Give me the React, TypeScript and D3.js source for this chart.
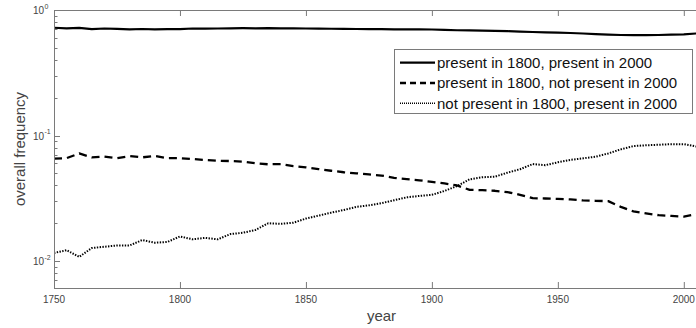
import React from "react";
import * as d3 from "d3";

const years = [
  1750, 1755, 1760, 1765, 1770, 1775, 1780, 1785, 1790, 1795,
  1800, 1805, 1810, 1815, 1820, 1825, 1830, 1835, 1840, 1845,
  1850, 1855, 1860, 1865, 1870, 1875, 1880, 1885, 1890, 1895,
  1900, 1905, 1910, 1915, 1920, 1925, 1930, 1935, 1940, 1945,
  1950, 1955, 1960, 1965, 1970, 1975, 1980, 1985, 1990, 1995,
  2000, 2005,
];

const presentBoth = [
  0.722, 0.715, 0.72, 0.705, 0.712, 0.708, 0.7, 0.706, 0.702, 0.705,
  0.703, 0.712, 0.71, 0.712, 0.715, 0.716, 0.714, 0.716, 0.713, 0.714,
  0.712, 0.71, 0.709, 0.707, 0.706, 0.705, 0.704, 0.702, 0.701, 0.7,
  0.699, 0.695, 0.69, 0.687, 0.685, 0.682, 0.678, 0.673, 0.668, 0.664,
  0.66, 0.656, 0.65, 0.642, 0.636, 0.632, 0.63, 0.631, 0.632, 0.636,
  0.64, 0.65,
];

const present1800Only = [
  0.0655, 0.066, 0.072, 0.067, 0.068, 0.066, 0.0686, 0.067, 0.0687, 0.066,
  0.066, 0.065, 0.0638, 0.063, 0.0626, 0.062, 0.0601, 0.059, 0.0592, 0.057,
  0.0558, 0.054, 0.0524, 0.051, 0.05, 0.049, 0.048, 0.046, 0.0449, 0.044,
  0.0427, 0.0415, 0.04, 0.0369, 0.0367, 0.0363, 0.0354, 0.0337, 0.0317, 0.0315,
  0.0313, 0.031, 0.0304, 0.0302, 0.03, 0.027, 0.0249, 0.024, 0.0232, 0.0229,
  0.0226, 0.0236,
];

const present2000Only = [
  0.0116, 0.0122, 0.0108, 0.0127, 0.013, 0.0133, 0.0133, 0.0147, 0.014, 0.0142,
  0.0157, 0.0149, 0.0153, 0.0149, 0.0164, 0.0168, 0.0177, 0.02, 0.0198, 0.0202,
  0.0218, 0.023, 0.0243, 0.0255, 0.027, 0.0278, 0.0289, 0.0305, 0.0322, 0.033,
  0.0337, 0.0362, 0.0396, 0.0448, 0.0465, 0.047, 0.0506, 0.0539, 0.0592, 0.058,
  0.0612, 0.064, 0.0658, 0.0678, 0.072, 0.0776, 0.0824, 0.0836, 0.0844, 0.0854,
  0.0854, 0.0817,
];

const seriesLabels = [
  "present in 1800, present in 2000",
  "present in 1800, not present in 2000",
  "not present in 1800, present in 2000",
];

const xTicks = [1750, 1800, 1850, 1900, 1950, 2000];
const yMajorTicks = [1, 0.1, 0.01];
const yExponents = ["0", "-1", "-2"];

const W = 696;
const H = 328;
const left = 54;
const top = 10;
const bottom = 288;
const right = 709;

const styles = [
  { width: 2.2, dash: "none" },
  { width: 2.3, dash: "8,5" },
  { width: 2, dash: "1.4,1.4" },
];

export default function App() {
  const x = d3.scaleLinear().domain([1750, 2010]).range([left, right]);
  const y = d3.scaleLog().domain([0.0061, 1]).range([bottom, top]);

  const series = [presentBoth, present1800Only, present2000Only];
  const line = d3
    .line<[number, number]>()
    .x((d) => x(d[0]))
    .y((d) => y(d[1]));

  const minor: number[] = [];
  [0.001, 0.01, 0.1].forEach((dec) => {
    for (let k = 2; k <= 9; k++) {
      const v = dec * k;
      if (v >= 0.0061 && v < 1) minor.push(v);
    }
  });

  const axisColor = "#7a7a7a";
  const textColor = "#444";
  const font = "'Liberation Sans', Arial, Helvetica, sans-serif";

  const legX = 394;
  const legY = 49;
  const legW = 298;
  const legH = 64;
  const rowY = [62.7, 83, 103.3];

  return (
    <svg
      width={W}
      height={H}
      style={{ position: "absolute", left: 0, top: 0, background: "#fff" }}
      fontFamily={font}
    >
      <defs>
        <clipPath id="plotclip">
          <rect x={left} y={top} width={right - left} height={bottom - top} />
        </clipPath>
      </defs>
      <rect x={0} y={0} width={W} height={H} fill="#fff" />

      {/* data */}
      <g clipPath="url(#plotclip)">
        {series.map((vals, i) => (
          <path
            key={i}
            d={line(years.map((yr, j) => [yr, vals[j]]) as [number, number][]) || ""}
            fill="none"
            stroke="#000"
            strokeWidth={styles[i].width}
            strokeDasharray={styles[i].dash}
            strokeLinejoin="round"
          />
        ))}
      </g>

      {/* axes box */}
      <line x1={left} x2={right} y1={bottom + 0.5} y2={bottom + 0.5} stroke={axisColor} strokeWidth={1} />
      <line x1={left} x2={right} y1={top + 0.5} y2={top + 0.5} stroke={axisColor} strokeWidth={1} />
      <line x1={left + 0.5} x2={left + 0.5} y1={top} y2={bottom + 1} stroke={axisColor} strokeWidth={1} />

      {/* x ticks */}
      {xTicks.map((t) => (
        <g key={t}>
          <line x1={x(t) + 0.5} x2={x(t) + 0.5} y1={bottom} y2={bottom - 6} stroke={axisColor} />
          <line x1={x(t) + 0.5} x2={x(t) + 0.5} y1={top} y2={top + 6} stroke={axisColor} />
          <text x={x(t)} y={303} fontSize={10} fill={textColor} textAnchor="middle">
            {t}
          </text>
        </g>
      ))}

      {/* y ticks */}
      {yMajorTicks.map((t, i) => (
        <g key={t}>
          <line x1={left} x2={left + 6} y1={Math.round(y(t)) + 0.5} y2={Math.round(y(t)) + 0.5} stroke={axisColor} />
          <text x={44} y={y(t) + 4} fontSize={10} fill={textColor} textAnchor="end">
            10
          </text>
          <text x={44.5} y={y(t) - 1.5} fontSize={7} fill={textColor} textAnchor="start">
            {yExponents[i]}
          </text>
        </g>
      ))}
      {minor.map((t) => (
        <line key={t} x1={left} x2={left + 3.5} y1={Math.round(y(t)) + 0.5} y2={Math.round(y(t)) + 0.5} stroke={axisColor} />
      ))}

      {/* axis labels */}
      <text x={(left + right) / 2} y={321} fontSize={15} fill={textColor} textAnchor="middle">
        year
      </text>
      <text
        transform={`translate(25, ${(top + bottom) / 2}) rotate(-90)`}
        fontSize={15}
        fill={textColor}
        textAnchor="middle"
      >
        overall frequency
      </text>

      {/* legend */}
      <rect x={legX + 0.5} y={legY + 0.5} width={legW} height={legH} fill="#fff" stroke={axisColor} />
      {seriesLabels.map((lab, i) => (
        <g key={lab}>
          <line
            x1={400}
            x2={435}
            y1={rowY[i]}
            y2={rowY[i]}
            stroke="#000"
            strokeWidth={i === 2 ? 1.4 : styles[i].width}
            strokeDasharray={i === 1 ? "6,4" : i === 2 ? "1,1" : styles[i].dash}
          />
          <text x={437} y={rowY[i] + 5.3} fontSize={15} fill="#111">
            {lab}
          </text>
        </g>
      ))}
    </svg>
  );
}
